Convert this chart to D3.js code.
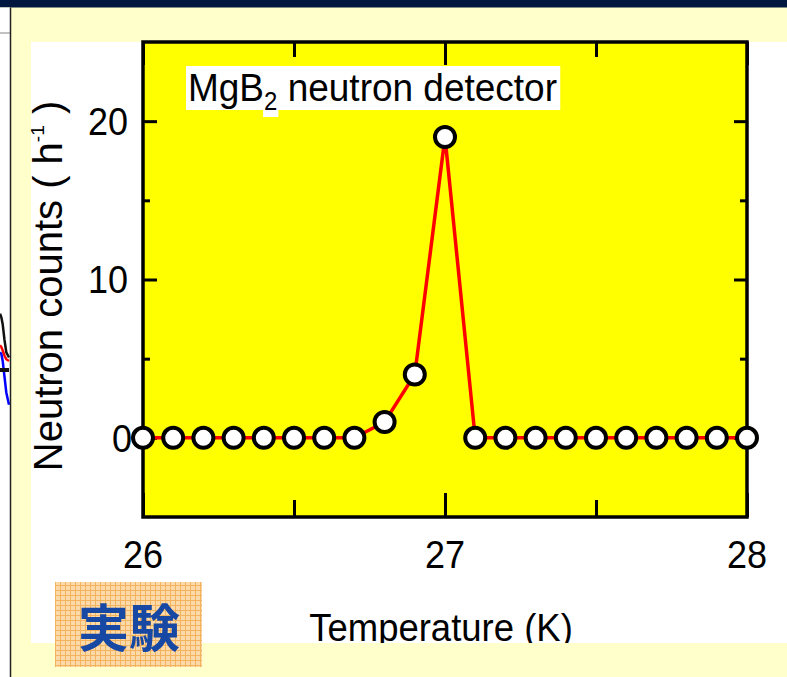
<!DOCTYPE html>
<html>
  <head>
    <meta charset="utf-8">
    <title>MgB2 neutron detector</title>
    <script src="https://d3js.org/d3.v7.min.js"></script>
    <style>
      body { margin: 0; background: #fff; }
      svg { display: block; font-family: "Liberation Sans", Arial, sans-serif; }
    </style>
  </head>
  <body>
    <svg id="chart" width="787" height="677"></svg>
  </body>
  <script type="text/javascript">
    // data
    var temps  = [26.0, 26.1, 26.2, 26.3, 26.4, 26.5, 26.6, 26.7, 26.8, 26.9, 27.0,
                  27.1, 27.2, 27.3, 27.4, 27.5, 27.6, 27.7, 27.8, 27.9, 28.0];
    var counts = [0, 0, 0, 0, 0, 0, 0, 0, 1, 4, 19,
                  0, 0, 0, 0, 0, 0, 0, 0, 0, 0];
    var xTicks = [26, 27, 28];
    var xMinor = [26.5, 27.5];
    var yTicks = [0, 10, 20];
    var yMinor = [5, 15];

    // cut-off piece of the neighbouring chart at the left edge
    var edgeT     = [0, 0.15, 0.3, 0.5, 0.7, 1];
    var edgeBlack = [30, 28, 24, 15, 8, 5];
    var edgeRed   = [12, 11, 9, 6, 4, 3];
    var edgeBlue  = [8, 7, 3, -6, -15, -22];

    var svg = d3.select("#chart");
    var stretch = 1.07; // slide text is a bit taller than the font

    // slide background
    svg.append("rect").attr("width", 787).attr("height", 677).attr("fill", "#ffffcc");
    svg.append("rect").attr("width", 787).attr("height", 7.5).attr("fill", "#00183f");
    svg.append("rect").attr("y", 7.5).attr("width", 10).attr("height", 670).attr("fill", "#fff");
    svg.append("line").attr("x1", 0).attr("x2", 10).attr("y1", 33).attr("y2", 33)
        .attr("stroke", "#999").attr("stroke-width", 1.2);
    svg.append("rect").attr("x", 31).attr("y", 42).attr("width", 756).attr("height", 601).attr("fill", "#fff");

    var ex = d3.scaleLinear().domain([0, 1]).range([0, 9]);
    var ey = d3.scaleLinear().domain([-25, 35]).range([410, 305]);
    [[edgeBlack, "#111"], [edgeRed, "red"], [edgeBlue, "blue"]].forEach(function (s) {
        svg.append("path")
            .attr("d", d3.line().x(function (d, i) { return ex(edgeT[i]); })
                               .y(function (d) { return ey(d); })(s[0]))
            .attr("fill", "none").attr("stroke", s[1]).attr("stroke-width", 2.5);
    });
    svg.append("line").attr("x1", 0).attr("x2", 9).attr("y1", 370).attr("y2", 370)
        .attr("stroke", "#111").attr("stroke-width", 4);
    svg.append("line").attr("x1", 10.5).attr("x2", 10.5).attr("y1", 7.5).attr("y2", 677)
        .attr("stroke", "#222").attr("stroke-width", 1.5);

    var x = d3.scaleLinear().domain([26, 28]).range([143, 747]);
    var y = d3.scaleLinear().domain([-5, 25]).range([517, 42]);

    svg.append("rect")
        .attr("x", x(26)).attr("y", y(25))
        .attr("width", x(28) - x(26)).attr("height", y(-5) - y(25))
        .attr("fill", "#ffff00");

    function ticks(axis, vals, len) {
        return axis.tickValues(vals).tickSize(-len).tickFormat("");
    }
    function styleAxis(g) {
        g.select(".domain").remove();
        g.selectAll("line").attr("stroke", "#000").attr("stroke-width", 3);
    }

    // inward ticks on all four sides
    svg.append("g").attr("transform", "translate(0," + y(-5) + ")")
        .call(ticks(d3.axisBottom(x), xTicks, 24)).call(styleAxis);
    svg.append("g").attr("transform", "translate(0," + y(-5) + ")")
        .call(ticks(d3.axisBottom(x), xMinor, 17)).call(styleAxis);
    svg.append("g").attr("transform", "translate(0," + y(25) + ")")
        .call(ticks(d3.axisTop(x), xTicks, 23)).call(styleAxis);
    svg.append("g").attr("transform", "translate(0," + y(25) + ")")
        .call(ticks(d3.axisTop(x), xMinor, 15)).call(styleAxis);
    svg.append("g").attr("transform", "translate(" + x(26) + ",0)")
        .call(ticks(d3.axisLeft(y), yTicks, 14)).call(styleAxis);
    svg.append("g").attr("transform", "translate(" + x(26) + ",0)")
        .call(ticks(d3.axisLeft(y), yMinor, 7)).call(styleAxis);
    svg.append("g").attr("transform", "translate(" + x(28) + ",0)")
        .call(ticks(d3.axisRight(y), yTicks, 13)).call(styleAxis);
    svg.append("g").attr("transform", "translate(" + x(28) + ",0)")
        .call(ticks(d3.axisRight(y), yMinor, 7)).call(styleAxis);

    // frame
    svg.append("rect")
        .attr("x", x(26)).attr("y", y(25))
        .attr("width", x(28) - x(26)).attr("height", y(-5) - y(25))
        .attr("fill", "none").attr("stroke", "#000").attr("stroke-width", 3.5);

    // tick labels
    svg.append("g").selectAll("text").data(xTicks).enter().append("text")
        .attr("transform", function (d) { return "translate(" + x(d) + ",568) scale(1," + stretch + ")"; })
        .attr("text-anchor", "middle")
        .attr("font-size", 36)
        .text(function (d) { return d; });
    svg.append("g").selectAll("text").data(yTicks).enter().append("text")
        .attr("transform", function (d) {
            return "translate(" + (d === 0 ? 132 : 128) + "," + y(d) + ") scale(1," + stretch + ")";
        })
        .attr("dy", "0.36em")
        .attr("text-anchor", "end")
        .attr("font-size", 36)
        .text(function (d) { return d; });

    // axis titles (x title is cut by the slide band below)
    svg.append("clipPath").attr("id", "panel")
        .append("rect").attr("x", 31).attr("y", 42).attr("width", 756).attr("height", 601);
    svg.append("g").attr("clip-path", "url(#panel)")
      .append("text")
        .attr("transform", "translate(441,641) scale(1,1.08)")
        .attr("text-anchor", "middle")
        .attr("font-size", 36.5)
        .text("Temperature (K)");

    var yt = svg.append("text")
        .attr("transform", "translate(62,286) rotate(-90)")
        .attr("text-anchor", "middle")
        .attr("font-size", 40);
    yt.append("tspan").text("Neutron counts ( h");
    yt.append("tspan").attr("font-size", 19).attr("dy", -18).text("-1");
    yt.append("tspan").attr("dy", 18).text(" )");

    // series
    var pts = temps.map(function (t, i) { return { t: t, c: counts[i] }; });
    svg.append("path")
        .datum(pts)
        .attr("d", d3.line().x(function (d) { return x(d.t); }).y(function (d) { return y(d.c); }))
        .attr("fill", "none")
        .attr("stroke", "#ff0000")
        .attr("stroke-width", 3.5);
    svg.append("g").selectAll("circle").data(pts).enter().append("circle")
        .attr("cx", function (d) { return x(d.t); })
        .attr("cy", function (d) { return y(d.c); })
        .attr("r", 10)
        .attr("fill", "#fff")
        .attr("stroke", "#000")
        .attr("stroke-width", 4);

    // label with white box
    var lblG = svg.append("g");
    var lbl = lblG.append("text")
        .attr("transform", "translate(188,101) scale(1," + stretch + ")")
        .attr("font-size", 37);
    lbl.append("tspan").text("MgB");
    lbl.append("tspan").attr("font-size", 24).attr("dy", 8).text("2");
    lbl.append("tspan").attr("dy", -8).text(" neutron detector");
    var bb = lbl.node().getBBox();
    var sub = lbl.node().getExtentOfChar(3);
    lblG.insert("rect", "text")
        .attr("x", 186).attr("y", 66).attr("width", bb.x + bb.width + 188 + 3 - 186).attr("height", 44)
        .attr("fill", "#fff");
    lblG.insert("rect", "text")
        .attr("x", 188 + sub.x - 1).attr("y", 100).attr("width", sub.width + 2).attr("height", 17)
        .attr("fill", "#fff");

    // 実験 badge
    var defs = svg.append("defs");
    var pat = defs.append("pattern").attr("id", "grid").attr("patternUnits", "userSpaceOnUse")
        .attr("width", 5).attr("height", 5);
    pat.append("rect").attr("width", 5).attr("height", 5).attr("fill", "#fbd9a8");
    pat.append("path").attr("d", "M0,0.5H5M0.5,0V5").attr("stroke", "#f3b25e").attr("stroke-width", 1);
    svg.append("rect").attr("x", 55).attr("y", 582).attr("width", 147).attr("height", 85)
        .attr("fill", "url(#grid)");
    svg.append("text")
        .attr("x", 129).attr("y", 647)
        .attr("text-anchor", "middle")
        .attr("font-family", "'Noto Sans CJK JP', sans-serif")
        .attr("font-weight", "bold")
        .attr("font-size", 51)
        .attr("fill", "#1748a3")
        .text("実験");
  </script>
</html>
